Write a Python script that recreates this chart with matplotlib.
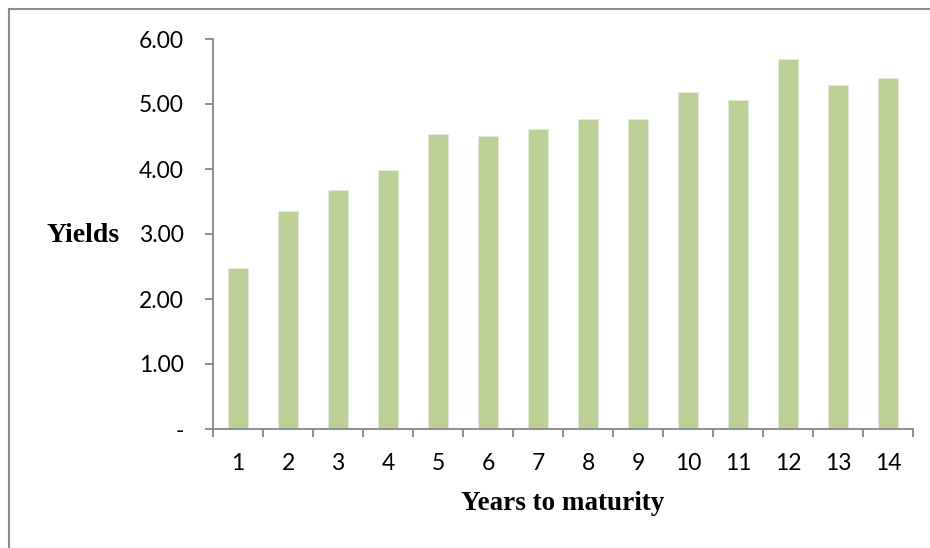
# Curva de juros: rendimento por prazo até o vencimento (barras).

import matplotlib
matplotlib.use("Agg")
import matplotlib.pyplot as plt
from matplotlib.lines import Line2D
import numpy as np

# Dados
ANOS = [1, 2, 3, 4, 5, 6, 7, 8, 9, 10, 11, 12, 13, 14]
RENDIMENTOS = [2.48, 3.36, 3.67, 3.98, 4.54, 4.51, 4.62,
               4.77, 4.77, 5.18, 5.06, 5.70, 5.30, 5.40]
TICKS_Y = [0, 1, 2, 3, 4, 5, 6]
ROTULOS_Y = ["-", "1.00", "2.00", "3.00", "4.00", "5.00", "6.00"]

COR_BARRA = "#BBCF97"
COR_EIXO = "#868686"
FONTE_NUM = "Lato"
FONTE_TITULO = "Liberation Serif"

figura = plt.figure(figsize=(9.3, 5.48), dpi=100)
eixo = figura.add_axes([213 / 930, 1 - 429 / 548, 700 / 930, 390 / 548])

posicoes = np.arange(len(ANOS))
eixo.bar(posicoes, RENDIMENTOS, width=0.4, color=COR_BARRA,
         edgecolor="#E3EBD5", linewidth=0.6)

eixo.set_xlim(-0.5, len(ANOS) - 0.5)
eixo.set_ylim(0, 6)

# eixo y
eixo.set_yticks(TICKS_Y)
eixo.set_yticklabels(ROTULOS_Y, fontfamily=FONTE_NUM, fontsize=16.5)
eixo.tick_params(axis="y", direction="out", length=6, width=1.3,
                 color=COR_EIXO, pad=15)

# eixo x: marcas entre as categorias, rótulos no centro
eixo.set_xticks(np.arange(len(ANOS) + 1) - 0.5)
eixo.set_xticklabels([])
eixo.tick_params(axis="x", which="major", direction="out", length=6,
                 width=1.3, color=COR_EIXO)
eixo.set_xticks(posicoes, minor=True)
eixo.set_xticklabels([str(a) for a in ANOS], minor=True,
                     fontfamily=FONTE_NUM, fontsize=16.5)
eixo.tick_params(axis="x", which="minor", length=0, pad=17)

for lado in ["top", "right"]:
    eixo.spines[lado].set_visible(False)
for lado in ["left", "bottom"]:
    eixo.spines[lado].set_color(COR_EIXO)
    eixo.spines[lado].set_linewidth(1.3)

figura.text(83 / 930, 1 - 236 / 548, "Yields", fontfamily=FONTE_TITULO,
            fontweight="bold", fontsize=20, ha="center", va="center")
figura.text(563 / 930, 1 - 504 / 548, "Years to maturity",
            fontfamily=FONTE_TITULO, fontweight="bold", fontsize=19.5,
            ha="center", va="center")

# moldura (só em cima e à esquerda)
figura.add_artist(Line2D([9 / 930, 9 / 930], [0, 1 - 9 / 548],
                         color="#8C8C8C", linewidth=1.5))
figura.add_artist(Line2D([9 / 930, 1], [1 - 9 / 548, 1 - 9 / 548],
                         color="#8C8C8C", linewidth=1.5))

figura.savefig("out.png", dpi=100)
plt.close(figura)
